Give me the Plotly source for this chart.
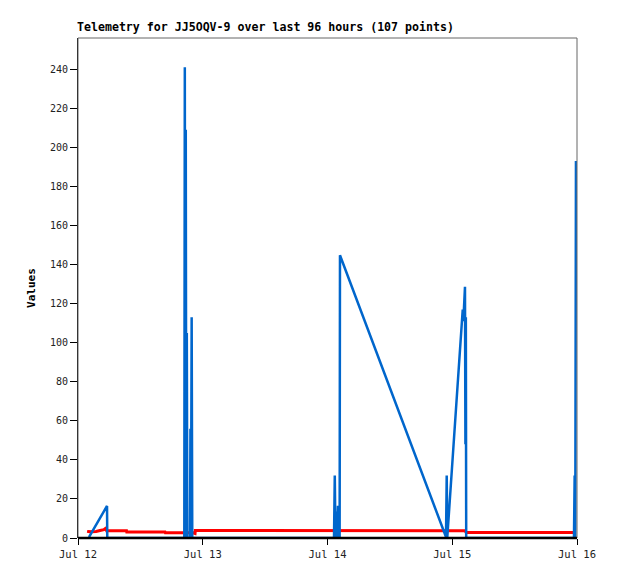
import plotly.graph_objects as go

# ---- data ----
blue_times = [
    "2024-07-12 02:07", "2024-07-12 05:35", "2024-07-12 05:38",
    "2024-07-12 20:27", "2024-07-12 20:33", "2024-07-12 20:38", "2024-07-12 20:44",
    "2024-07-12 20:50", "2024-07-12 20:56", "2024-07-12 21:02",
    "2024-07-12 21:33", "2024-07-12 21:38", "2024-07-12 21:44", "2024-07-12 21:52",
    "2024-07-12 21:59",
    "2024-07-14 01:15", "2024-07-14 01:24", "2024-07-14 01:32", "2024-07-14 01:44",
    "2024-07-14 01:53", "2024-07-14 02:01", "2024-07-14 02:10", "2024-07-14 02:20",
    "2024-07-14 02:24",
    "2024-07-14 22:48", "2024-07-14 22:56", "2024-07-14 23:03",
    "2024-07-15 02:01", "2024-07-15 02:08", "2024-07-15 02:27", "2024-07-15 02:32",
    "2024-07-15 02:37", "2024-07-15 02:41",
    "2024-07-15 23:25", "2024-07-15 23:33", "2024-07-15 23:40", "2024-07-15 23:48",
]
blue_values = [
    0.5, 16.4, 0,
    0, 241, 0, 209,
    0, 105, 0,
    0, 56, 0, 113,
    0,
    0, 32, 0, 13.5,
    0, 16.5, 0, 0,
    144.8,
    0.5, 32, 0.5,
    117, 111, 128.6, 48,
    113, 0,
    0, 32, 0, 193,
]

red_times = [
    "2024-07-12 01:59", "2024-07-12 02:02", "2024-07-12 02:41", "2024-07-12 03:28",
    "2024-07-12 04:14", "2024-07-12 05:00", "2024-07-12 05:23", "2024-07-12 05:31",
    "2024-07-12 09:20", "2024-07-12 09:23", "2024-07-12 16:44", "2024-07-12 16:48",
    "2024-07-12 22:07", "2024-07-12 22:19", "2024-07-12 22:31", "2024-07-12 22:34",
    "2024-07-14 02:20", "2024-07-15 02:29", "2024-07-15 02:40", "2024-07-15 23:45",
]
red_values = [
    2.6, 3.3, 3.2, 3.3,
    3.8, 4.3, 5.0, 3.75,
    3.75, 3.1, 3.1, 2.7,
    2.7, 2.3, 2.3, 3.8,
    3.75, 3.7, 2.8, 2.8,
]

x_range = ["2024-07-12 00:00", "2024-07-16 00:00"]
y_range = [0, 256]
title_text = "Telemetry for JJ5OQV-9 over last 96 hours (107 points)"
y_title = "Values"

MONO = "DejaVu Sans Mono"
W, H = 610, 571

fig = go.Figure()
fig.add_trace(go.Scatter(x=red_times, y=red_values, mode="lines",
                         line=dict(color="#ff0000", width=3), showlegend=False))
fig.add_trace(go.Scatter(x=blue_times, y=blue_values, mode="lines",
                         line=dict(color="#0066cc", width=2.5), showlegend=False))

# frame (top/right gray)
fig.add_shape(type="rect", xref="paper", yref="paper", x0=0, x1=1, y0=0, y1=1,
              line=dict(color="#666666", width=1), layer="above")
# black base line at zero
fig.add_shape(type="line", xref="paper", yref="paper", x0=0, x1=1, y0=0, y1=0,
              line=dict(color="black", width=2.5), layer="above")

fig.update_layout(
    width=W, height=H,
    margin=dict(l=70, r=41, t=30, b=41),
    paper_bgcolor="white", plot_bgcolor="white",
    title=dict(text="<b>" + title_text + "</b>", x=69 / W, xanchor="left",
               y=1 - 23 / H, yanchor="bottom",
               font=dict(family=MONO, size=11.6, color="black")),
    font=dict(family=MONO, size=10, color="#222222"),
)
fig.update_xaxes(
    type="date", range=x_range, dtick=86400000, tickformat="%b %d",
    showgrid=False, zeroline=False, showline=False,
    ticks="outside", ticklen=6, tickcolor="black", tickwidth=1,
    tickfont=dict(family=MONO, size=10.5, color="#222222"),
)
fig.update_yaxes(
    range=y_range, dtick=20, showgrid=False, zeroline=False,
    showline=True, linecolor="black", linewidth=1,
    ticks="outside", ticklen=7, tickcolor="black", tickwidth=1,
    tickfont=dict(family=MONO, size=10, color="#222222"),
    title=dict(text="<b>" + y_title + "</b>", standoff=12,
               font=dict(family=MONO, size=11, color="black")),
)

fig.write_html("out.html")
